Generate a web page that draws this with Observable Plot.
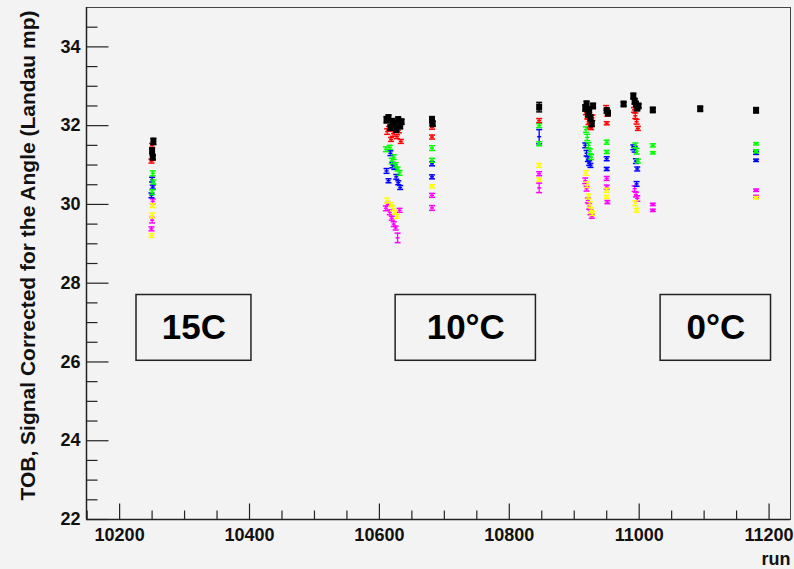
<!DOCTYPE html>
<html><head><meta charset="utf-8">
<script src="https://cdn.jsdelivr.net/npm/d3@7"></script>
<script src="https://cdn.jsdelivr.net/npm/@observablehq/plot@0.6"></script>
<style>
html,body{margin:0;padding:0;background:#f3f3f3;}
</style></head><body><div id="chart"></div><script>
// [run, value, error]
const black = [
[10252,31.60,0.08],[10250,31.36,0.07],[10251,31.20,0.05],
[10611,32.15,0.08],[10614,32.20,0.07],[10617,31.95,0.06],[10620,32.10,0.08],[10623,32.05,0.07],[10626,31.90,0.06],[10629,32.15,0.07],[10632,32.00,0.08],[10634,32.10,0.06],
[10681,32.15,0.08],[10682,32.05,0.06],
[10846,32.47,0.12],
[10917,32.45,0.08],[10919,32.55,0.07],[10921,32.30,0.08],[10923,32.40,0.08],[10925,32.20,0.06],[10927,32.05,0.07],[10929,32.50,0.06],
[10950,32.38,0.06],[10952,32.32,0.05],
[10976,32.55,0.05],
[10991,32.75,0.07],[10993,32.62,0.07],[10995,32.55,0.06],[10997,32.45,0.07],[10999,32.50,0.05],
[11021,32.40,0.05],
[11094,32.43,0.05],
[11180,32.39,0.05]
];
const red = [
[10250,31.50,0.05],[10251,31.18,0.06],[10249,31.10,0.05],
[10612,31.85,0.07],[10615,31.92,0.06],[10618,31.65,0.05],[10621,31.80,0.07],[10624,31.95,0.06],[10627,31.72,0.05],[10630,31.88,0.06],[10633,31.60,0.05],
[10681,31.96,0.05],[10681,31.71,0.05],
[10846,32.13,0.05],
[10918,32.35,0.07],[10920,32.25,0.08],[10922,32.10,0.07],[10924,32.00,0.06],[10926,31.95,0.05],[10928,32.20,0.07],
[10949,32.45,0.06],[10951,32.30,0.06],[10950,32.06,0.04],
[10992,32.40,0.06],[10994,32.25,0.07],[10996,32.10,0.06],[10998,31.93,0.05]
];
const green = [
[10251,30.79,0.06],[10252,30.57,0.05],[10250,30.31,0.06],
[10610,31.40,0.06],[10616,31.45,0.05],[10619,31.10,0.07],[10622,31.20,0.06],[10625,31.00,0.06],[10628,30.90,0.05],[10631,30.80,0.06],
[10681,31.43,0.06],[10681,31.12,0.05],
[10846,32.00,0.05],[10846,31.54,0.05],
[10918,31.90,0.07],[10920,31.70,0.08],[10922,31.50,0.07],[10924,31.35,0.06],[10926,31.20,0.06],
[10950,31.58,0.05],[10950,31.33,0.04],
[10994,31.50,0.06],[10996,31.35,0.07],[10998,31.10,0.05],
[11021,31.50,0.04],[11021,31.31,0.03],
[11180,31.54,0.03],[11180,31.35,0.04]
];
const blue = [
[10250,30.63,0.06],[10251,30.44,0.05],[10249,30.23,0.06],
[10611,30.85,0.06],[10614,30.60,0.05],[10617,31.30,0.06],[10620,31.00,0.07],[10623,30.95,0.06],[10626,30.70,0.06],[10629,30.55,0.05],[10632,30.43,0.05],
[10681,31.03,0.05],[10681,30.70,0.05],
[10846,31.72,0.18],
[10917,31.50,0.06],[10919,31.30,0.07],[10921,31.15,0.06],[10923,31.05,0.06],[10925,30.99,0.05],
[10950,31.16,0.05],[10950,30.90,0.04],
[10991,31.45,0.06],[10993,31.40,0.07],[10995,31.10,0.06],[10997,30.90,0.05],[10996,30.52,0.06],
[11180,31.31,0.04],[11180,31.12,0.03]
];
const yellow = [
[10251,29.97,0.05],[10250,29.72,0.06],[10249,29.21,0.05],
[10612,30.10,0.06],[10618,30.00,0.05],[10621,29.90,0.06],[10624,29.80,0.05],[10627,29.70,0.05],
[10681,30.46,0.04],
[10846,30.99,0.05],[10846,30.63,0.04],
[10918,30.80,0.06],[10920,30.50,0.07],[10922,30.20,0.06],[10924,30.00,0.07],[10926,29.85,0.06],[10928,29.77,0.05],
[10950,30.36,0.05],[10950,30.19,0.04],
[10994,30.03,0.06],[10996,29.85,0.05],
[11180,30.17,0.03]
];
const magenta = [
[10251,30.08,0.06],[10250,29.60,0.07],[10249,29.38,0.05],
[10610,29.90,0.06],[10613,30.00,0.05],[10616,29.80,0.06],[10619,29.65,0.05],[10622,29.50,0.06],[10625,29.40,0.05],[10628,29.15,0.12],[10631,29.85,0.05],
[10681,30.23,0.05],[10681,29.91,0.06],
[10846,30.78,0.05],[10846,30.42,0.12],
[10917,30.60,0.07],[10919,30.40,0.06],[10921,30.10,0.06],[10923,29.95,0.07],[10925,29.80,0.06],[10927,29.70,0.05],
[10950,30.66,0.05],[10950,30.44,0.05],[10951,30.06,0.04],
[10993,30.40,0.07],[10995,30.25,0.06],[10997,30.15,0.07],
[11021,30.00,0.03],[11021,29.85,0.03],
[11180,30.36,0.03],[11180,30.20,0.03]
];
const layers = [
  {data: magenta, color: "#ff00ff"},
  {data: yellow, color: "#ffff00"},
  {data: blue, color: "#0000ff"},
  {data: green, color: "#00ff00"},
  {data: red, color: "#ff0000"}
];
const xDomain = [10149, 11233];
const yDomain = [22, 35];
const xMajorTicks = [10200, 10400, 10600, 10800, 11000, 11200];
const yMajorTicks = [22, 24, 26, 28, 30, 32, 34];
const xMinorTicks = d3.range(10150, 11233, 50).filter(v => !xMajorTicks.includes(v));
const yMinorTicks = d3.range(22.5, 35, 0.5).filter(v => !yMajorTicks.includes(v));
const boxes = [
  {label: "15C", x1: 10226, x2: 10403, y1: 26.03, y2: 27.70},
  {label: "10°C", x1: 10625, x2: 10841, y1: 26.03, y2: 27.70},
  {label: "0°C", x1: 11033, x2: 11203, y1: 26.03, y2: 27.70}
];
const yLabel = "TOB, Signal Corrected for the Angle (Landau mp)";
const xLabel = "run";

const FONT = "Liberation Sans, Arial, Helvetica, sans-serif";
const hcap = {draw(ctx, size){ const r = Math.sqrt(size/Math.PI); ctx.moveTo(-r,0); ctx.lineTo(r,0); }};
const sq = {draw(ctx){ ctx.rect(-3,-3.5,6,7); }};
const tickSym = (dx, dy) => ({draw(ctx){ ctx.moveTo(0,0); ctx.lineTo(dx,dy); }});

function errMarks(data, color, isBlack){
  const m = [
    Plot.ruleX(data, {x: d => d[0], y1: d => d[1]-d[2], y2: d => d[1]+d[2], stroke: color, strokeWidth: 1.3}),
    Plot.dot(data, {x: d => d[0], y: d => d[1]+d[2], symbol: hcap, r: 3, stroke: color, strokeWidth: 1.5, fill: "none"}),
    Plot.dot(data, {x: d => d[0], y: d => d[1]-d[2], symbol: hcap, r: 3, stroke: color, strokeWidth: 1.5, fill: "none"})
  ];
  if (isBlack) m.push(Plot.dot(data, {x: d => d[0], y: d => d[1], symbol: sq, r: 3, fill: color, stroke: "none"}));
  else m.push(Plot.dot(data, {x: d => d[0], y: d => d[1], symbol: hcap, r: 2, stroke: color, strokeWidth: 1.5, fill: "none"}));
  return m;
}

const chart = Plot.plot({
  width: 794, height: 569,
  marginLeft: 86, marginRight: 4, marginTop: 7, marginBottom: 50,
  x: {domain: xDomain, axis: null},
  y: {domain: yDomain, axis: null},
  style: {background: "#f3f3f3", fontFamily: FONT, overflow: "visible"},
  marks: [
    Plot.frame({stroke: "#444", strokeWidth: 1}),
    Plot.ruleX([xDomain[0]], {stroke: "#222", strokeWidth: 1.5}),
    Plot.ruleY([yDomain[0]], {stroke: "#222", strokeWidth: 1.5}),
    Plot.dot(yMajorTicks, {x: () => xDomain[0], y: d => d, symbol: tickSym(22,0), r: 1, stroke: "#222", strokeWidth: 1.2}),
    Plot.dot(yMinorTicks, {x: () => xDomain[0], y: d => d, symbol: tickSym(11,0), r: 1, stroke: "#222", strokeWidth: 1.2}),
    Plot.dot(xMajorTicks, {x: d => d, y: () => yDomain[0], symbol: tickSym(0,-16), r: 1, stroke: "#222", strokeWidth: 1.2}),
    Plot.dot(xMinorTicks, {x: d => d, y: () => yDomain[0], symbol: tickSym(0,-9), r: 1, stroke: "#222", strokeWidth: 1.2}),
    Plot.text(yMajorTicks, {y: d => d, frameAnchor: "left", dx: -6, textAnchor: "end", text: d => String(d), fontSize: 18, fontWeight: "bold", fill: "#111"}),
    Plot.text(xMajorTicks, {x: d => d, frameAnchor: "bottom", dy: 21, textAnchor: "middle", text: d => String(d), fontSize: 18, fontWeight: "bold", fill: "#111"}),
    Plot.text([xLabel], {frameAnchor: "bottom-right", dy: 45, textAnchor: "end", text: d => d, fontSize: 18, fontWeight: "bold", fill: "#111"}),
    Plot.text([yLabel], {frameAnchor: "left", dx: -58, dy: -8, rotate: -90, textAnchor: "middle", text: d => d, fontSize: 21, fontWeight: "bold", fill: "#111"}),
    ...layers.flatMap(l => errMarks(l.data, l.color, false)),
    ...errMarks(black, "#000", true),
    Plot.rect(boxes, {x1: "x1", x2: "x2", y1: "y1", y2: "y2", fill: "#f3f3f3", stroke: "#222", strokeWidth: 1.5}),
    Plot.text(boxes, {x: d => (d.x1+d.x2)/2, y: d => (d.y1+d.y2)/2, text: "label", fontSize: 35, fontWeight: "bold", fill: "#000"})
  ]
});
document.getElementById("chart").appendChild(chart);
</script></body></html>
